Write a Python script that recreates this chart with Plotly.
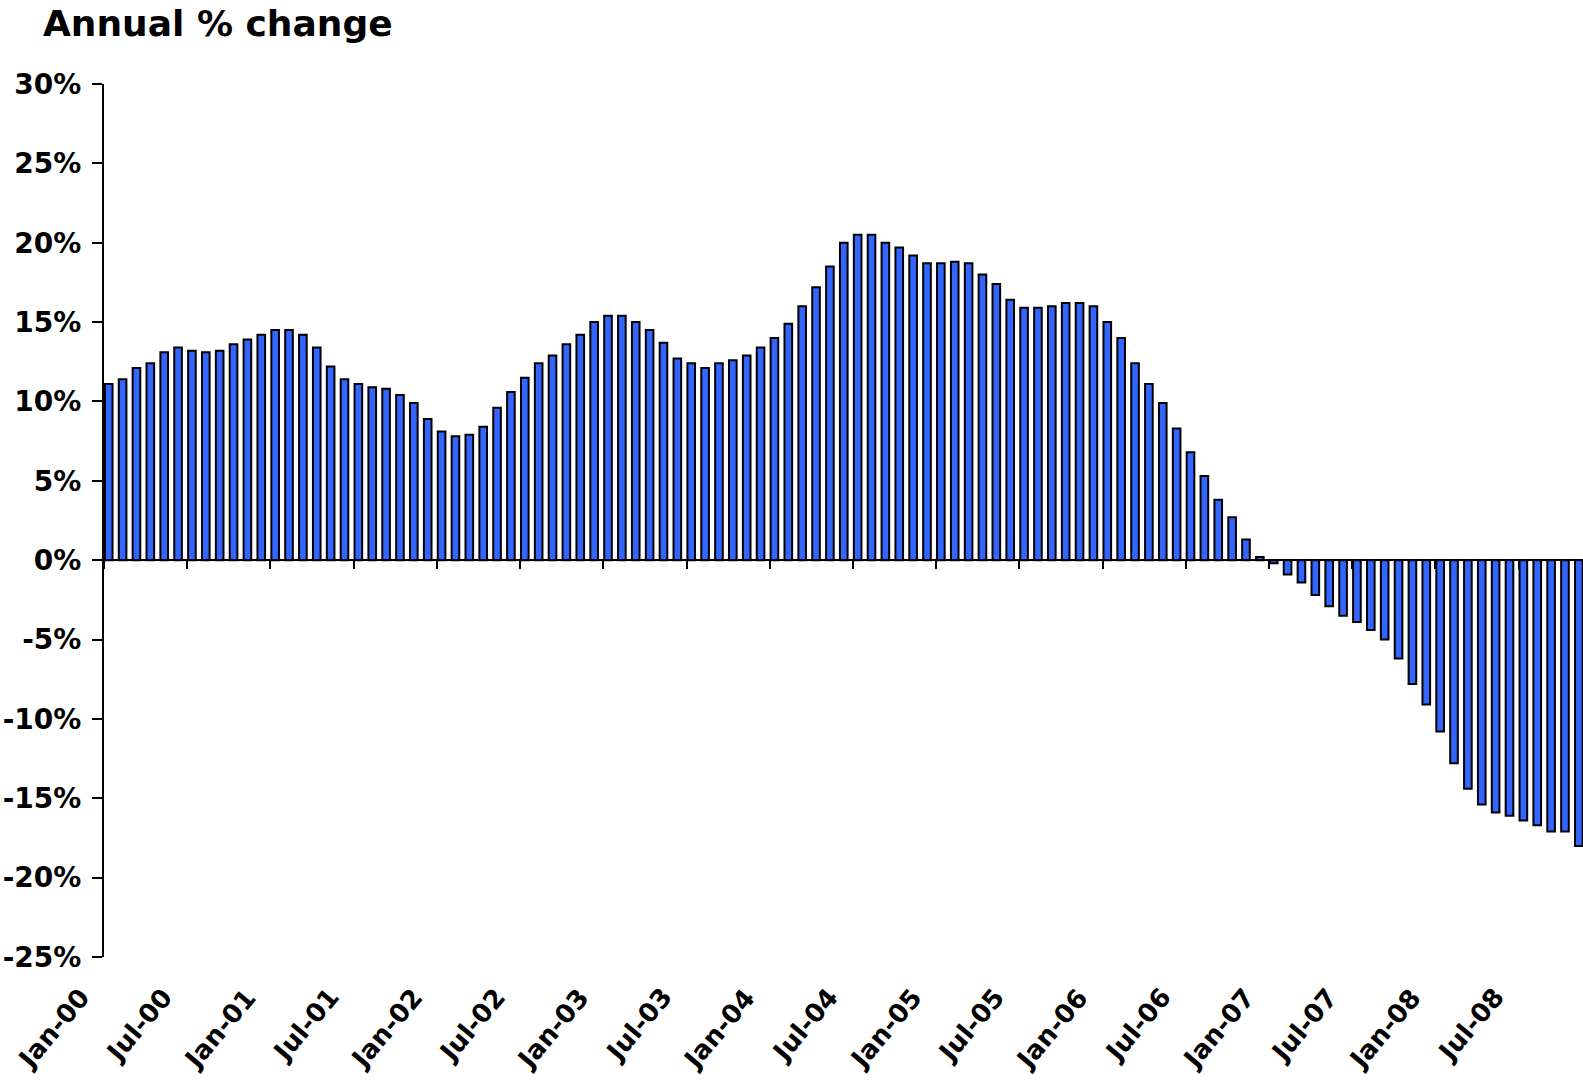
import pandas as pd
import plotly.graph_objects as go

# Monthly categories Jan-00 .. Nov-08
months = pd.date_range("2000-01-01", periods=107, freq="MS").strftime("%b-%y").tolist()

values = [
    11.1, 11.4, 12.1, 12.4, 13.1, 13.4, 13.2, 13.1, 13.2, 13.6, 13.9, 14.2,
    14.5, 14.5, 14.2, 13.4, 12.2, 11.4, 11.1, 10.9, 10.8, 10.4, 9.9, 8.9,
    8.1, 7.8, 7.9, 8.4, 9.6, 10.6, 11.5, 12.4, 12.9, 13.6, 14.2, 15.0,
    15.4, 15.4, 15.0, 14.5, 13.7, 12.7, 12.4, 12.1, 12.4, 12.6, 12.9, 13.4,
    14.0, 14.9, 16.0, 17.2, 18.5, 20.0, 20.5, 20.5, 20.0, 19.7, 19.2, 18.7,
    18.7, 18.8, 18.7, 18.0, 17.4, 16.4, 15.9, 15.9, 16.0, 16.2, 16.2, 16.0,
    15.0, 14.0, 12.4, 11.1, 9.9, 8.3, 6.8, 5.3, 3.8, 2.7, 1.3, 0.2,
    -0.2, -0.9, -1.4, -2.2, -2.9, -3.5, -3.9, -4.4, -5.0, -6.2, -7.8, -9.1,
    -10.8, -12.8, -14.4, -15.4, -15.9, -16.1, -16.4, -16.7, -17.1, -17.1, -18.0,
]

tick_labels = ["Jan-00", "Jul-00", "Jan-01", "Jul-01", "Jan-02", "Jul-02",
               "Jan-03", "Jul-03", "Jan-04", "Jul-04", "Jan-05", "Jul-05",
               "Jan-06", "Jul-06", "Jan-07", "Jul-07", "Jan-08", "Jul-08"]

y_ticks = [-25, -20, -15, -10, -5, 0, 5, 10, 15, 20, 25, 30]
y_tick_labels = [f"{v}%" for v in y_ticks]

Y_MIN, Y_MAX = -25, 30
OFFSET = 0.34  # category boundary offset relative to bar centre

x_idx = list(range(len(months)))
tick_pos = [months.index(lbl) - OFFSET for lbl in tick_labels]

FONT = "DejaVu Sans"

fig = go.Figure()
fig.add_trace(go.Bar(
    x=x_idx, y=values, width=0.55,
    marker=dict(color="#3366FF", line=dict(color="black", width=2)),
    hovertext=months,
))

for pos, lbl in zip(tick_pos, tick_labels):
    fig.add_annotation(
        x=pos, xref="x", y=-0.026, yref="paper",
        text=f"<b>{lbl}</b>", showarrow=False, textangle=-50,
        xanchor="right", yanchor="top", xshift=-6,
        font=dict(family=FONT, size=26, color="black"),
    )

fig.update_layout(
    template="none",
    width=1583, height=1081,
    margin=dict(l=104, r=0, t=84, b=124, autoexpand=False),
    paper_bgcolor="white", plot_bgcolor="white",
    showlegend=False,
    bargap=0.45,
    title=dict(
        text="<b>Annual % change</b>",
        x=43 / 1583, xanchor="left", xref="container",
        y=1 - 11 / 1081, yanchor="top", yref="container",
        font=dict(family=FONT, size=36, color="black"),
    ),
    xaxis=dict(
        range=[-OFFSET, len(months) - 0.7],
        anchor="free", position=(0 - Y_MIN) / (Y_MAX - Y_MIN),
        showline=True, linecolor="black", linewidth=2,
        ticks="outside", ticklen=8, tickwidth=2, tickcolor="black",
        tickvals=tick_pos, ticktext=["" for _ in tick_pos],
        showgrid=False, zeroline=False, automargin=False,
    ),
    yaxis=dict(
        range=[Y_MIN, Y_MAX],
        tickvals=y_ticks, ticktext=[f"<b>{t}</b>" for t in y_tick_labels],
        showline=True, linecolor="black", linewidth=2,
        ticks="outside", ticklen=10, tickwidth=2, tickcolor="black",
        showgrid=False, zeroline=False, automargin=False,
        tickfont=dict(family=FONT, size=28, color="black"),
        ticklabelstandoff=5,
    ),
)

fig.write_html(
    "out.html",
    config={"displayModeBar": False},
    post_script="document.body.style.margin='0px';document.body.style.overflow='hidden';",
)
